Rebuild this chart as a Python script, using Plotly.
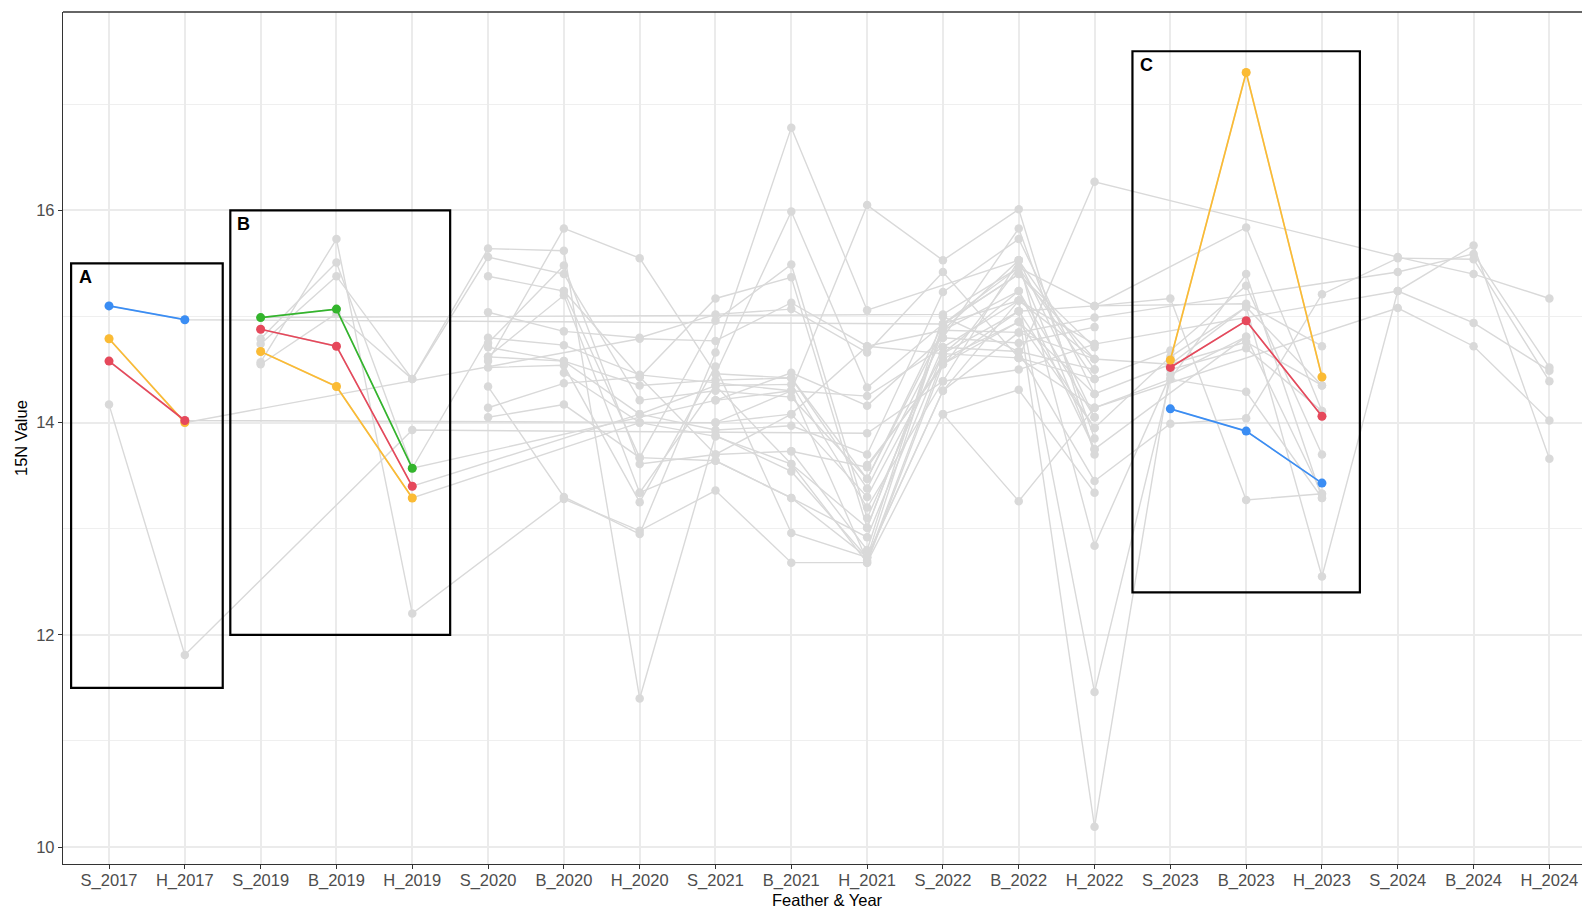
import plotly.graph_objects as go

_ = None
categories = ["S_2017", "H_2017", "S_2019", "B_2019", "H_2019", "S_2020", "B_2020", "H_2020",
              "S_2021", "B_2021", "H_2021", "S_2022", "B_2022", "H_2022", "S_2023", "B_2023",
              "H_2023", "S_2024", "B_2024", "H_2024"]

# 15N values per individual, aligned with categories (None = not sampled)
b01 = [15.10, 14.97, _, _, _, _, _, _, _, _, _, 14.93, 15.40, 14.60, 14.55, 14.76, 14.35, _, _, _]
b02 = [14.79, 14.00, _, _, _, _, _, 14.79, 14.77, 15.13, 14.72, 14.87, 15.53, 14.05, _, _, _, _, _, _]
b03 = [14.58, 14.02, _, _, _, _, _, _, 14.00, 14.08, 13.30, 14.65, 15.05, 15.10, _, 15.12, 14.72, _, _, _]
b04 = [14.17, 11.81, _, _, 13.93, _, _, _, _, _, 13.90, 14.39, 14.50, 14.74, _, _, _, _, _, _]
b05 = [_, _, 14.99, 15.07, 13.57, _, _, _, 14.21, 14.47, 14.16, 14.80, 15.83, 13.85, _, _, _, _, _, _]
b06 = [_, _, 14.88, 14.72, 13.40, _, _, 14.08, 13.93, 13.97, 13.70, 15.23, 15.73, 14.27, _, _, _, _, _, _]
b07 = [_, _, 14.67, 14.34, 13.29, _, _, 14.00, 13.87, 13.61, 12.68, 14.55, 14.95, 13.95, _, _, _, _, _, _]
b08 = [_, _, 14.79, 15.51, 13.57, 14.80, 14.73, 14.45, _, 14.30, 14.25, 14.71, 14.67, 14.50, _, _, _, _, _, _]
b09 = [_, _, 14.74, 15.38, 14.41, 15.64, 15.62, 11.40, 13.88, 13.54, 12.73, 14.30, 15.15, 11.46, 14.41, 15.40, 13.29, _, _, _]
b10 = [_, _, 14.57, 15.73, 12.20, _, 13.28, 12.98, 13.36, 12.68, 12.68, 14.08, 14.31, 13.34, _, _, _, _, _, _]
b11 = [_, _, 14.99, _, _, _, _, _, _, _, _, 15.02, 15.46, 14.41, 14.68, 15.29, 13.70, _, _, _]
b12 = [_, _, 14.55, 15.03, 14.41, 15.56, 15.40, 14.21, 14.30, 14.24, 13.47, 14.87, 14.85, 14.99, _, _, _, 15.42, 15.59, 14.52]
b13 = [_, _, _, _, _, 15.38, 15.24, 13.67, 13.64, 13.29, 12.92, 14.65, 15.24, 13.75, _, _, _, _, _, _]
b14 = [_, _, _, _, _, 15.04, 14.86, 14.80, 15.02, 15.07, 14.66, 15.42, 14.61, 14.14, _, _, _, 15.08, 14.72, 14.02]
b15 = [_, _, _, _, _, 14.75, 15.48, 13.61, 13.70, 13.73, 13.58, 14.55, 15.05, 10.19, 14.50, 14.70, 14.11, _, _, _]
b16 = [_, _, _, _, _, 14.71, 14.58, 14.35, 14.40, 14.42, 13.38, 14.80, 14.75, 14.90, _, _, _, _, _, _]
b17 = [_, _, _, _, _, 14.62, 15.20, 13.34, 14.35, 14.36, 13.20, 14.39, 15.53, 12.84, 14.45, 14.81, 13.33, _, _, _]
b18 = [_, _, _, _, _, 14.58, 15.83, 15.55, 14.46, 15.99, 14.33, 14.93, 15.40, 14.71, _, _, _, _, _, _]
b19 = [_, _, _, _, _, 14.52, 14.54, 13.25, 14.53, 12.96, 12.73, 14.30, 14.85, 14.60, _, _, _, _, _, _]
b20 = [_, _, _, _, _, 14.34, 13.30, 12.95, 14.66, 16.78, 15.06, _, 15.53, 14.50, _, _, _, _, _, _]
b21 = [_, _, _, _, _, 14.14, 14.37, 14.43, 15.17, 15.37, 13.01, 14.87, 15.24, 14.05, _, _, _, _, _, _]
b22 = [_, _, _, _, _, 14.05, 14.17, 13.67, 14.96, 15.49, 13.10, 14.71, 15.15, 14.74, _, _, _, 15.24, 14.94, 14.49]
b23 = [_, _, _, _, _, _, 14.47, 14.00, 14.00, 14.30, 16.05, 15.53, 16.01, 13.70, _, _, _, _, _, _]
b24 = [_, _, _, _, _, _, _, _, 14.21, 14.30, 12.70, 14.60, 14.95, 14.27, 14.55, 15.09, 14.35, _, _, _]
b25 = [_, _, _, _, _, _, _, _, _, 13.73, 12.80, 15.00, 14.67, 13.45, 13.99, 14.04, 15.21, 15.55, 15.54, 14.39]
b26 = [_, _, _, _, _, _, _, _, _, _, 13.60, _, 15.46, 15.10, _, 15.84, 14.11, _, _, _]
b27 = [_, _, _, _, _, _, _, _, _, _, _, 14.08, 13.26, 14.14, 14.41, 14.29, 13.29, _, _, _]
b28 = [_, _, _, _, _, _, _, _, _, _, _, _, 14.61, 16.27, _, _, _, 15.56, 15.40, 15.17]
b29 = [_, _, _, _, _, _, _, _, _, _, _, _, _, 15.10, 15.17, 13.27, 13.33, _, _, _]
b30 = [_, _, _, _, _, _, _, _, _, _, _, _, 15.05, 13.95, 14.62, 15.09, 12.55, 15.24, 15.67, 13.66]
b31 = [_, _, _, _, _, _, _, _, 14.46, 14.42, 13.47, 14.93, 15.15, 14.60, _, _, _, _, _, _]
b32 = [_, _, _, _, _, 14.62, 14.58, 14.08, 14.35, 13.61, 13.01, 14.87, _, _, _, _, _, _, _, _]
b33 = [_, _, _, _, _, _, 15.24, 14.43, 13.70, 14.08, 14.72, 14.65, 14.61, 14.41, _, _, _, _, _, _]
b34 = [_, _, _, _, _, _, _, 13.34, 13.64, 13.29, 12.73, 14.93, 15.46, 13.75, _, 14.81, _, _, _, _]
c_orange = [_, _, _, _, _, _, _, _, _, _, _, _, _, _, 14.59, 17.30, 14.43, _, _, _]
c_red = [_, _, _, _, _, _, _, _, _, _, _, _, _, _, 14.52, 14.96, 14.06, _, _, _]
c_blue = [_, _, _, _, _, _, _, _, _, _, _, _, _, _, 14.13, 13.92, 13.43, _, _, _]

birds = [b01, b02, b03, b04, b05, b06, b07, b08, b09, b10, b11, b12, b13, b14, b15,
         b16, b17, b18, b19, b20, b21, b22, b23, b24, b25, b26, b27, b28, b29, b30,
         b31, b32, b33, b34, c_orange, c_red, c_blue]

BLUE, ORANGE, RED, GREEN = "#3A8DF4", "#FBBB34", "#E6485B", "#33B52C"
# (bird, first category index, last category index, colour)
highlights = [
    (b01, 0, 1, BLUE), (b02, 0, 1, ORANGE), (b03, 0, 1, RED),
    (b07, 2, 4, ORANGE), (b06, 2, 4, RED), (b05, 2, 4, GREEN),
    (c_blue, 14, 16, BLUE), (c_red, 14, 16, RED), (c_orange, 14, 16, ORANGE),
]

boxes = [("A", -0.5, 1.5, 11.5, 15.5, -0.31, 15.37),
         ("B", 1.6, 4.5, 12.0, 16.0, 1.78, 15.87),
         ("C", 13.5, 16.5, 12.4, 17.5, 13.69, 17.37)]

GRAY = "#D9D9D9"
FONT = "Liberation Sans, Arial, sans-serif"

fig = go.Figure()

gx, gy = [], []
for b in birds:
    for i, v in enumerate(b):
        if v is not None:
            gx.append(categories[i])
            gy.append(v)
    gx.append(None)
    gy.append(None)
fig.add_trace(go.Scatter(x=gx, y=gy, mode="lines+markers",
                         line=dict(color=GRAY, width=1.4),
                         marker=dict(color=GRAY, size=8.5), hoverinfo="skip"))

for b, i0, i1, col in highlights:
    xs = [categories[i] for i in range(i0, i1 + 1) if b[i] is not None]
    ys = [b[i] for i in range(i0, i1 + 1) if b[i] is not None]
    fig.add_trace(go.Scatter(x=xs, y=ys, mode="lines+markers",
                             line=dict(color=col, width=1.7),
                             marker=dict(color=col, size=9)))

shapes = []
annotations = []
for lab, x0, x1, y0, y1, lx, ly in boxes:
    shapes.append(dict(type="rect", xref="x", yref="y", x0=x0, x1=x1, y0=y0, y1=y1,
                       line=dict(color="black", width=2.2), fillcolor="rgba(0,0,0,0)",
                       layer="above"))
    annotations.append(dict(x=lx, y=ly, xref="x", yref="y", text="<b>%s</b>" % lab,
                            showarrow=False, font=dict(family=FONT, size=18, color="black")))
shapes.append(dict(type="line", xref="paper", yref="paper", x0=0, x1=1, y0=1, y1=1,
                   line=dict(color="#333333", width=1.3)))

annotations.append(dict(x=0, y=0.5, xref="paper", yref="paper", xshift=-42,
                        xanchor="center", yanchor="middle",
                        text="15N Value", textangle=-90, showarrow=False,
                        font=dict(family=FONT, size=16.5, color="black")))
annotations.append(dict(x=0.5036, y=0, xref="paper", yref="paper", yshift=-36,
                        xanchor="center", yanchor="middle",
                        text="Feather &amp; Year", showarrow=False,
                        font=dict(family=FONT, size=16.5, color="black")))

fig.update_layout(
    width=1582, height=910,
    margin=dict(l=63, r=0, t=12, b=46),
    paper_bgcolor="white", plot_bgcolor="white",
    showlegend=False,
    shapes=shapes, annotations=annotations,
    xaxis=dict(type="category", categoryorder="array", categoryarray=categories,
               range=[-0.607, 19.43], showgrid=True, gridcolor="#EBEBEB", gridwidth=1.9,
               showline=True, linecolor="#333333", linewidth=1.3, zeroline=False,
               ticks="outside", ticklen=4, tickcolor="#333333", ticklabelstandoff=-3,
               tickfont=dict(family=FONT, size=16.5, color="#4D4D4D")),
    yaxis=dict(range=[9.84, 17.87], tickvals=[10, 12, 14, 16], showgrid=True,
               gridcolor="#EBEBEB", gridwidth=1.9, zeroline=False,
               minor=dict(tickvals=[11, 13, 15, 17], showgrid=True, gridcolor="#EFEFEF",
                          gridwidth=1.0),
               showline=True, linecolor="#333333", linewidth=1.3,
               ticks="outside", ticklen=4, tickcolor="#333333",
               tickfont=dict(family=FONT, size=16.5, color="#4D4D4D")),
)

fig.write_html("out.html")
